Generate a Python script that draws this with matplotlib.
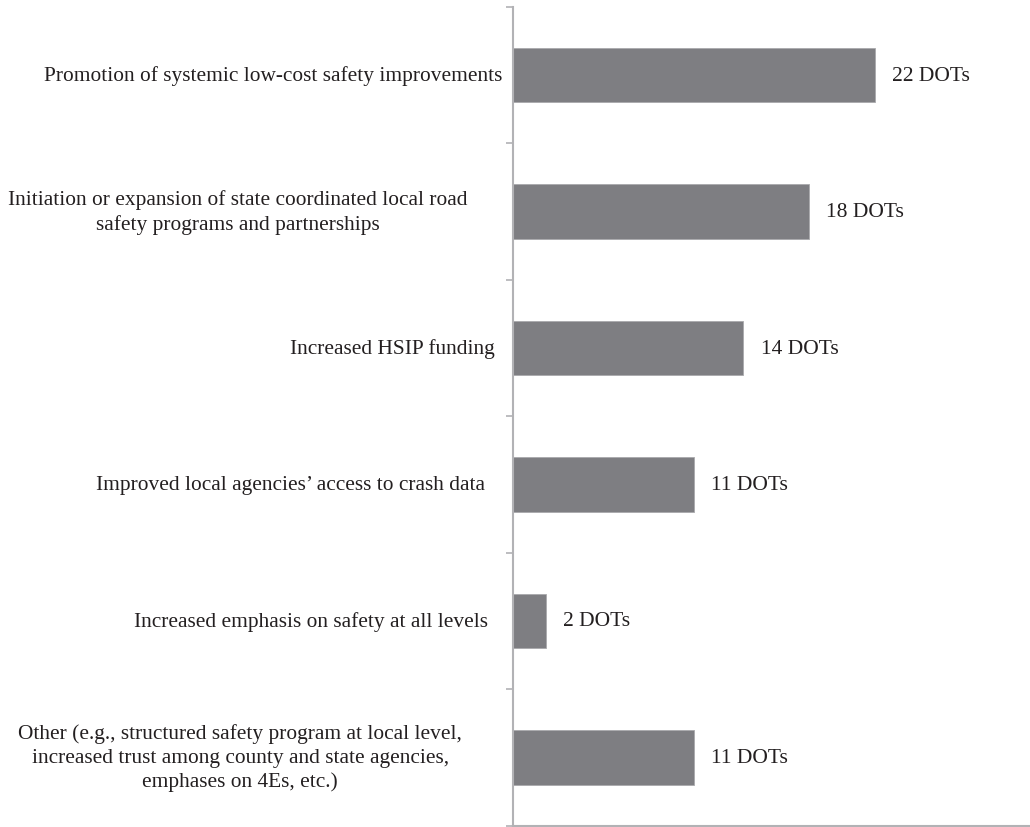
import numpy as np
from matplotlib import pyplot as plt

categories = [
    'Promotion of systemic low-cost safety improvements',
    'Initiation or expansion of state coordinated local road\nsafety programs and partnerships',
    'Increased HSIP funding',
    'Improved local agencies\u2019 access to crash data',
    'Increased emphasis on safety at all levels',
    'Other (e.g., structured safety program at local level,\nincreased trust among county and state agencies,\nemphases on 4Es, etc.)',
]
dots = [22, 18, 14, 11, 2, 11]
value_labels = ['%d DOTs' % v for v in dots]

# right edge of each category label, in pixels left of the axis line
label_gap = [11, 45, 18, 28, 25, 51]

plt.rcParams['font.family'] = ['Liberation Serif', 'DejaVu Serif']
text_color = '#231f20'
bar_color = '#7e7e82'
axis_color = '#b2b2b5'

fig = plt.figure(figsize=(10.30, 8.28), dpi=100)
ax = fig.add_axes([513 / 1030, 1.5 / 828, 517 / 1030, 818.5 / 828])

ind = np.arange(len(categories))
ax.barh(ind, dots, height=0.40, color=bar_color, edgecolor='#a9a9ac', linewidth=0.6)

ax.set_xlim(0, 31.43)
ax.set_ylim(len(categories) - 0.5, -0.5)

for i, v in enumerate(dots):
    ax.annotate(value_labels[i], xy=(v, i), xytext=(12.5, 0), textcoords='offset points',
                ha='left', va='center', fontsize=15.5, color=text_color)

for i, name in enumerate(categories):
    ax.annotate(name, xy=(0, i), xycoords=('data', 'data'), xytext=(-label_gap[i] * 0.72, 0),
                textcoords='offset points', ha='right', va='center', multialignment='center',
                fontsize=15.4, color=text_color, linespacing=1.34)

ax.set_yticks([])
ax.set_yticks(np.arange(len(categories) + 1) - 0.5, minor=True)
ax.tick_params(axis='y', which='minor', length=5, width=1.2, color=axis_color, direction='out')
ax.set_xticks([])

for side in ['top', 'right']:
    ax.spines[side].set_visible(False)
ax.spines['left'].set_color(axis_color)
ax.spines['left'].set_linewidth(1.5)
ax.spines['bottom'].set_color(axis_color)
ax.spines['bottom'].set_linewidth(1.5)

fig.savefig('out.png', dpi=100)
